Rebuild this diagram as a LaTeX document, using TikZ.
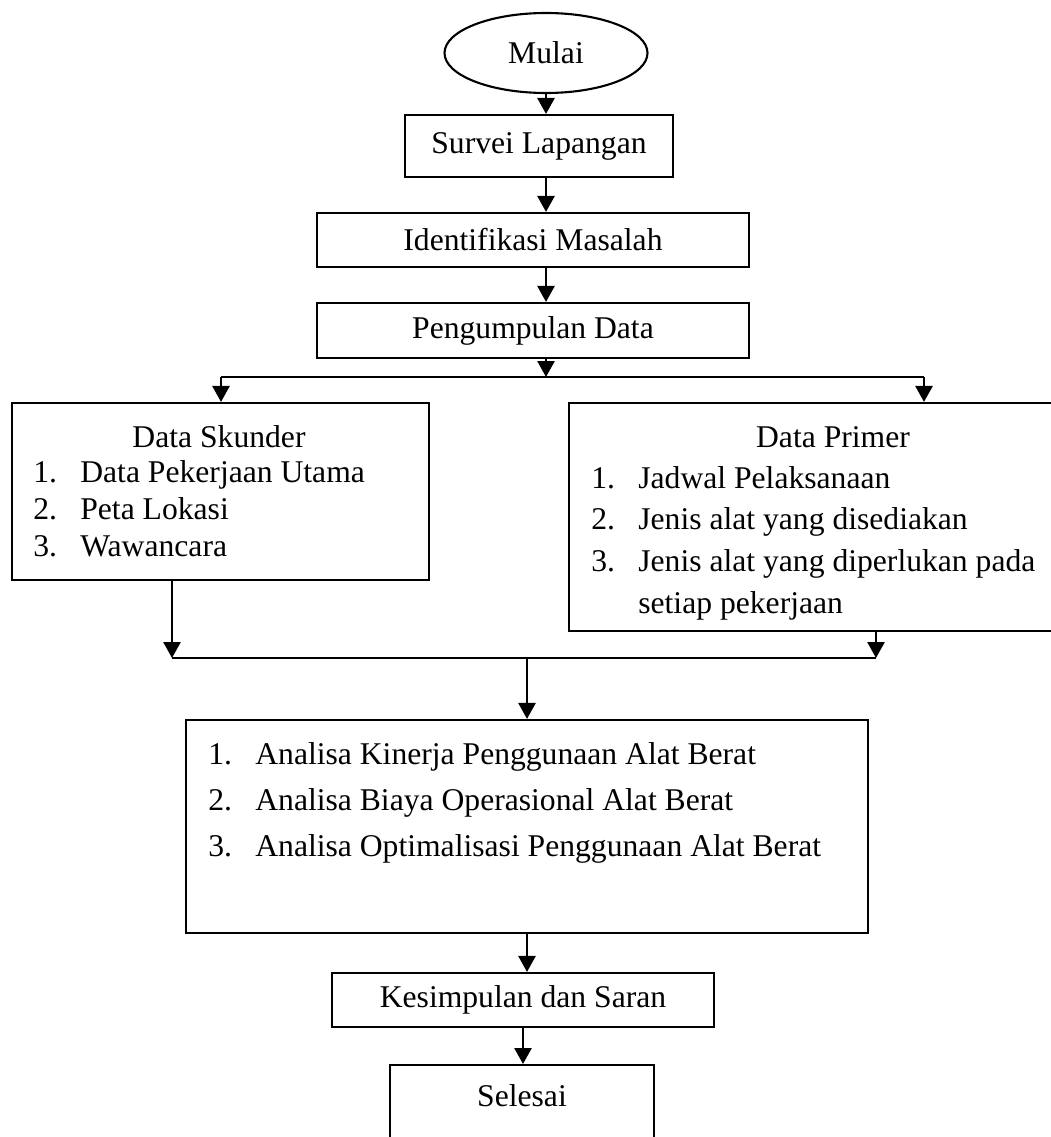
\documentclass[tikz,border=0pt]{standalone}
\usepackage{fontspec}
\setmainfont{Liberation Serif}
\usepackage{tikz}
\usetikzlibrary{positioning,arrows.meta,shapes.geometric,calc}

\tikzset{
  box/.style={draw,line width=1.2pt,rectangle,inner sep=0pt,align=center},
  start/.style={draw,line width=1.2pt,ellipse,inner sep=0pt},
  flow/.style={line width=1.5pt,-{Triangle[length=0.32cm,width=0.34cm]}},
  link/.style={line width=1.2pt},
  itemtxt/.style={anchor=base west,inner sep=0pt},
  headtxt/.style={anchor=base,inner sep=0pt}
}

\begin{document}
\begin{tikzpicture}[every node/.style={font=\fontsize{18}{21.6}\selectfont}]
  \useasboundingbox (0,0) rectangle (21.02,-22.74);
  \clip (0,0) rectangle (21.02,-22.74);

  \node[start,minimum width=4.06cm,minimum height=1.6cm] (mulai) at (10.92,-1.06) {Mulai};
  \node[box,minimum width=5.36cm,minimum height=1.24cm] (survei) at (10.78,-2.92) {Survei Lapangan};
  \node[box,minimum width=8.64cm,minimum height=1.08cm] (identifikasi) at (10.66,-4.80) {Identifikasi Masalah};
  \node[box,minimum width=8.64cm,minimum height=1.10cm] (pengumpulan) at (10.66,-6.61) {Pengumpulan Data};

  \node[box,minimum width=8.34cm,minimum height=3.54cm] (skunder) at (4.41,-9.83) {};
  \node[headtxt] (skunderjudul) at (4.38,-8.95) {Data Skunder};
  \node[itemtxt] (skundernoA) at (0.66,-9.64) {1.};
  \node[itemtxt] (skunderA) at (1.60,-9.64) {Data Pekerjaan Utama};
  \node[itemtxt] (skundernoB) at (0.66,-10.38) {2.};
  \node[itemtxt] (skunderB) at (1.60,-10.38) {Peta Lokasi};
  \node[itemtxt] (skundernoC) at (0.66,-11.12) {3.};
  \node[itemtxt] (skunderC) at (1.60,-11.12) {Wawancara};

  \node[box,minimum width=10.64cm,minimum height=4.56cm] (primer) at (16.70,-10.34) {};
  \node[headtxt] (primerjudul) at (16.66,-8.95) {Data Primer};
  \node[itemtxt] (primernoA) at (11.82,-9.76) {1.};
  \node[itemtxt] (primerA) at (12.76,-9.76) {Jadwal Pelaksanaan};
  \node[itemtxt] (primernoB) at (11.82,-10.58) {2.};
  \node[itemtxt] (primerB) at (12.76,-10.58) {Jenis alat yang disediakan};
  \node[itemtxt] (primernoC) at (11.82,-11.42) {3.};
  \node[itemtxt] (primerC) at (12.76,-11.42) {Jenis alat yang diperlukan pada};
  \node[itemtxt] (primerD) at (12.76,-12.26) {setiap pekerjaan};

  \node[box,minimum width=13.64cm,minimum height=4.26cm] (analisa) at (10.54,-16.53) {};
  \node[itemtxt] (analisanoA) at (4.16,-15.28) {1.};
  \node[itemtxt] (analisaA) at (5.10,-15.28) {Analisa Kinerja Penggunaan Alat Berat};
  \node[itemtxt] (analisanoB) at (4.16,-16.20) {2.};
  \node[itemtxt] (analisaB) at (5.10,-16.20) {Analisa Biaya Operasional Alat Berat};
  \node[itemtxt] (analisanoC) at (4.16,-17.12) {3.};
  \node[itemtxt] (analisaC) at (5.10,-17.12) {Analisa Optimalisasi Penggunaan Alat Berat};

  \node[box,minimum width=7.64cm,minimum height=1.08cm] (kesimpulan) at (10.46,-20.00) {Kesimpulan dan Saran};
  \node[box,anchor=north,minimum width=5.28cm,text height=0.82cm,text depth=1.2cm] (selesai) at (10.44,-21.28) {Selesai};

  \coordinate (splitL) at (4.42,-7.54);
  \coordinate (splitR) at (18.48,-7.54);
  \coordinate (mergeL) at (3.44,-13.16);
  \coordinate (mergeR) at (17.52,-13.16);

  \draw[flow] (mulai.south) -- (mulai.south |- survei.north);
  \draw[flow] (survei.south -| mulai) -- (identifikasi.north -| mulai);
  \draw[flow] (identifikasi.south -| mulai) -- (pengumpulan.north -| mulai);
  \draw[flow] (pengumpulan.south -| mulai) -- (mulai |- splitL);
  \draw[link] (splitL) -- (splitR);
  \draw[flow] (splitL) -- (splitL |- skunder.north);
  \draw[flow] (splitR) -- (splitR |- primer.north);

  \draw[flow] (skunder.south -| mergeL) -- (mergeL);
  \draw[flow] (primer.south -| mergeR) -- (mergeR);
  \draw[link] (mergeL) -- (mergeR);
  \draw[flow] (analisa.north |- mergeL) -- (analisa.north);
  \draw[flow] (analisa.south) -- (analisa.south |- kesimpulan.north);
  \draw[flow] (kesimpulan.south) -- (kesimpulan.south |- selesai.north);
\end{tikzpicture}
\end{document}
